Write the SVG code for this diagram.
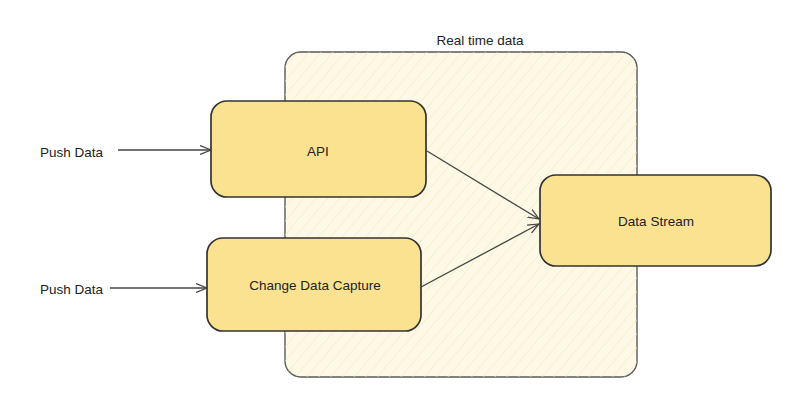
<svg xmlns="http://www.w3.org/2000/svg" width="790" height="402" viewBox="0 0 790 402">
  <style>
    .lbl { font-family: "Liberation Sans", Arial, sans-serif; font-size: 13.5px; fill: #222222; }
    .box { fill: #fbe291; stroke: #333333; stroke-width: 1.7; }
    .wire { fill: none; stroke: #444444; stroke-width: 1.3; }
  </style>
  <defs>
    <pattern id="hatch" patternUnits="userSpaceOnUse" width="9" height="9" patternTransform="rotate(40)">
      <line x1="0" y1="0" x2="0" y2="9" stroke="#f2eac2" stroke-width="1.2"/>
    </pattern>
    <marker id="arrow" viewBox="0 0 12 10" refX="11" refY="5" markerWidth="12" markerHeight="10" markerUnits="userSpaceOnUse" orient="auto">
      <path d="M0,0.5 L11,5 L0,9.5" fill="none" stroke="#444444" stroke-width="1.2"/>
    </marker>
  </defs>

  <rect width="790" height="402" fill="#ffffff"/>

  <!-- Real time data boundary -->
  <g id="realtime">
    <rect x="285" y="52" width="352" height="325" rx="16" fill="#fdf9e6" stroke="#5a5a5a" stroke-width="1.4"/>
    <rect x="285" y="52" width="352" height="325" rx="16" fill="url(#hatch)" stroke="none"/>
    <text class="lbl" x="480" y="45" text-anchor="middle">Real time data</text>
  </g>

  <!-- Connectors -->
  <g id="connectors">
    <line class="wire" x1="118" y1="150" x2="211" y2="150" marker-end="url(#arrow)"/>
    <line class="wire" x1="110" y1="288" x2="207" y2="288" marker-end="url(#arrow)"/>
    <line class="wire" x1="427" y1="151" x2="539" y2="219" marker-end="url(#arrow)"/>
    <line class="wire" x1="421" y1="287" x2="539" y2="224" marker-end="url(#arrow)"/>
  </g>

  <g id="push1">
    <text class="lbl" x="40" y="157">Push Data</text>
  </g>
  <g id="push2">
    <text class="lbl" x="40" y="294">Push Data</text>
  </g>

  <g id="api">
    <rect class="box" x="211" y="101" width="215" height="96" rx="16"/>
    <text class="lbl" x="318" y="156" text-anchor="middle">API</text>
  </g>

  <g id="cdc">
    <rect class="box" x="207" y="238" width="214" height="93" rx="16"/>
    <text class="lbl" x="315" y="290" text-anchor="middle">Change Data Capture</text>
  </g>

  <g id="datastream">
    <rect class="box" x="540" y="175" width="231" height="91" rx="16"/>
    <text class="lbl" x="656" y="226" text-anchor="middle">Data Stream</text>
  </g>
</svg>
